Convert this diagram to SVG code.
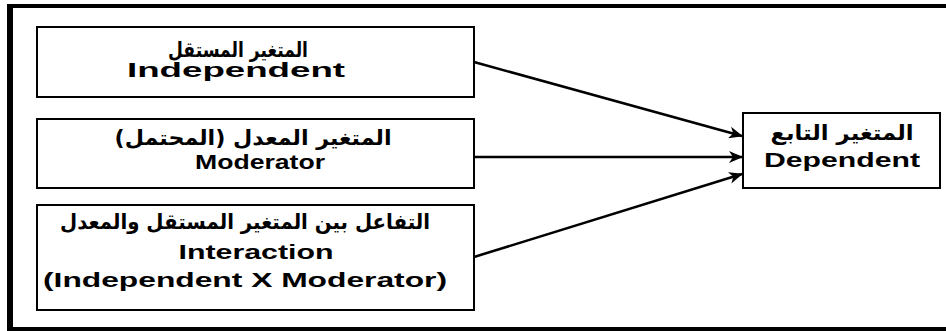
<svg xmlns="http://www.w3.org/2000/svg" width="946" height="331" viewBox="0 0 946 331">
<defs>
<style>
.box{fill:#fff;stroke:#000;stroke-width:2}
.t{font-family:"Liberation Sans","DejaVu Sans",Arial,sans-serif;font-weight:bold;font-size:20px;fill:#000;text-anchor:middle}
.ar{font-family:"DejaVu Sans","Liberation Sans",sans-serif;font-weight:bold;font-size:21px;fill:#000;text-anchor:middle}
.c{stroke:#000;stroke-width:2.5;fill:none;marker-end:url(#ah)}
.frame{stroke:#000;fill:none}
</style>
<marker id="ah" markerUnits="userSpaceOnUse" markerWidth="14" markerHeight="12" viewBox="0 0 14 12" refX="13" refY="6" orient="auto">
<path d="M0,0 L14,6 L0,12 L4,6 z" fill="#000"/>
</marker>
</defs>
<rect width="946" height="331" fill="#fff"/>
<g id="frame">
<line class="frame" x1="7" y1="6" x2="946" y2="6" stroke-width="4"/>
<line class="frame" x1="10" y1="4" x2="10" y2="331" stroke-width="6"/>
<line class="frame" x1="7" y1="329" x2="946" y2="329" stroke-width="4"/>
</g>
<g id="connectors">
<line class="c" x1="474" y1="62" x2="742" y2="136"/>
<line class="c" x1="474" y1="157" x2="742" y2="157"/>
<line class="c" x1="474" y1="257" x2="742" y2="174"/>
</g>
<g id="independent">
<rect class="box" x="37" y="27" width="437" height="70"/>
<text class="ar" x="238" y="57" textLength="140" lengthAdjust="spacingAndGlyphs">المتغير المستقل</text>
<text class="t" x="236" y="77" textLength="218" lengthAdjust="spacingAndGlyphs">Independent</text>
</g>
<g id="moderator">
<rect class="box" x="37" y="119" width="437" height="69"/>
<text class="ar" x="253" y="145" textLength="277" lengthAdjust="spacingAndGlyphs">المتغير المعدل (المحتمل)</text>
<text class="t" x="260" y="169" textLength="130" lengthAdjust="spacingAndGlyphs">Moderator</text>
</g>
<g id="interaction">
<rect class="box" x="37" y="205" width="437" height="105"/>
<text class="ar" x="245" y="229" textLength="370" lengthAdjust="spacingAndGlyphs">التفاعل بين المتغير المستقل والمعدل</text>
<text class="t" x="256" y="259" textLength="155" lengthAdjust="spacingAndGlyphs">Interaction</text>
<text class="t" x="245" y="287" textLength="404" lengthAdjust="spacingAndGlyphs">(Independent X Moderator)</text>
</g>
<g id="dependent">
<rect class="box" x="743" y="113" width="197" height="75"/>
<text class="ar" x="842" y="140" textLength="143" lengthAdjust="spacingAndGlyphs">المتغير التابع</text>
<text class="t" x="842" y="167" textLength="156" lengthAdjust="spacingAndGlyphs">Dependent</text>
</g>
</svg>
